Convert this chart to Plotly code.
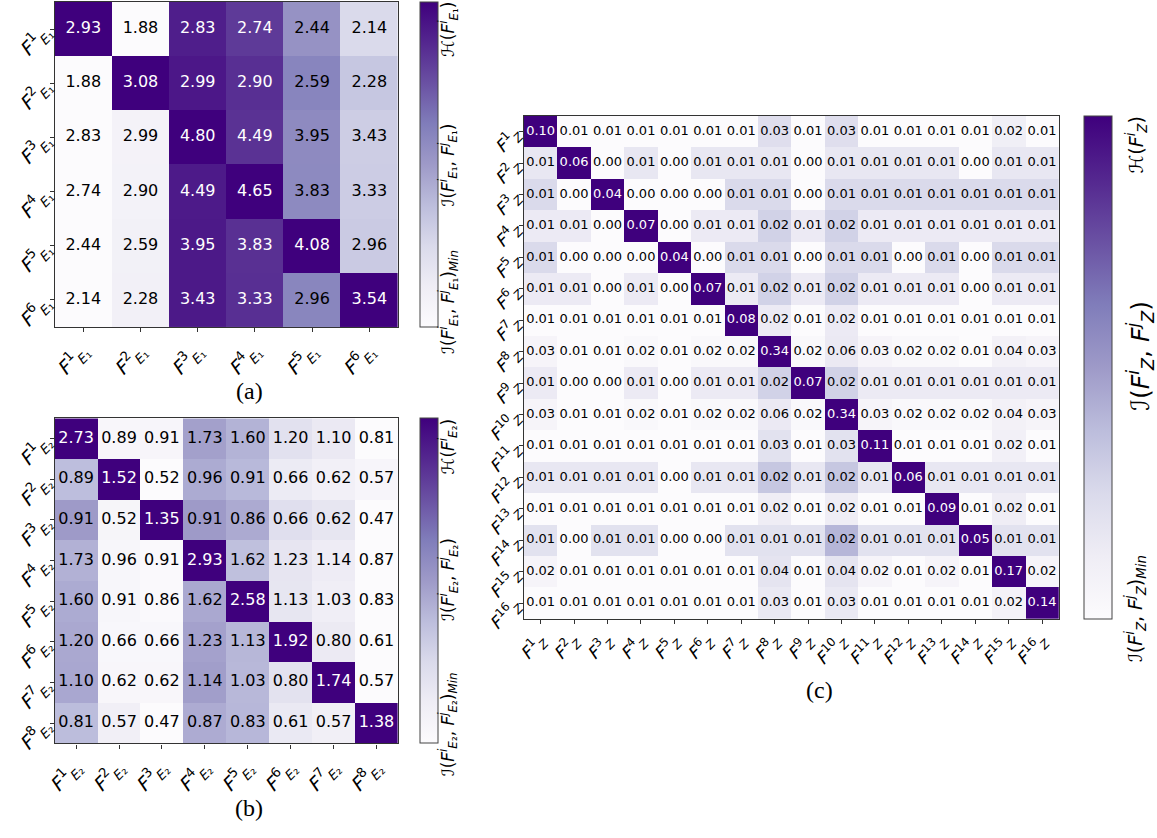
import plotly.graph_objects as go

# ---- data -------------------------------------------------------------
mi_e1 = [
    [2.93, 1.88, 2.83, 2.74, 2.44, 2.14],
    [1.88, 3.08, 2.99, 2.90, 2.59, 2.28],
    [2.83, 2.99, 4.80, 4.49, 3.95, 3.43],
    [2.74, 2.90, 4.49, 4.65, 3.83, 3.33],
    [2.44, 2.59, 3.95, 3.83, 4.08, 2.96],
    [2.14, 2.28, 3.43, 3.33, 2.96, 3.54],
]

mi_e2 = [
    [2.73, 0.89, 0.91, 1.73, 1.60, 1.20, 1.10, 0.81],
    [0.89, 1.52, 0.52, 0.96, 0.91, 0.66, 0.62, 0.57],
    [0.91, 0.52, 1.35, 0.91, 0.86, 0.66, 0.62, 0.47],
    [1.73, 0.96, 0.91, 2.93, 1.62, 1.23, 1.14, 0.87],
    [1.60, 0.91, 0.86, 1.62, 2.58, 1.13, 1.03, 0.83],
    [1.20, 0.66, 0.66, 1.23, 1.13, 1.92, 0.80, 0.61],
    [1.10, 0.62, 0.62, 1.14, 1.03, 0.80, 1.74, 0.57],
    [0.81, 0.57, 0.47, 0.87, 0.83, 0.61, 0.57, 1.38],
]

mi_z = [
    [0.10, 0.01, 0.01, 0.01, 0.01, 0.01, 0.01, 0.03, 0.01, 0.03, 0.01, 0.01, 0.01, 0.01, 0.02, 0.01],
    [0.01, 0.06, 0.00, 0.01, 0.00, 0.01, 0.01, 0.01, 0.00, 0.01, 0.01, 0.01, 0.01, 0.00, 0.01, 0.01],
    [0.01, 0.00, 0.04, 0.00, 0.00, 0.00, 0.01, 0.01, 0.00, 0.01, 0.01, 0.01, 0.01, 0.01, 0.01, 0.01],
    [0.01, 0.01, 0.00, 0.07, 0.00, 0.01, 0.01, 0.02, 0.01, 0.02, 0.01, 0.01, 0.01, 0.01, 0.01, 0.01],
    [0.01, 0.00, 0.00, 0.00, 0.04, 0.00, 0.01, 0.01, 0.00, 0.01, 0.01, 0.00, 0.01, 0.00, 0.01, 0.01],
    [0.01, 0.01, 0.00, 0.01, 0.00, 0.07, 0.01, 0.02, 0.01, 0.02, 0.01, 0.01, 0.01, 0.00, 0.01, 0.01],
    [0.01, 0.01, 0.01, 0.01, 0.01, 0.01, 0.08, 0.02, 0.01, 0.02, 0.01, 0.01, 0.01, 0.01, 0.01, 0.01],
    [0.03, 0.01, 0.01, 0.02, 0.01, 0.02, 0.02, 0.34, 0.02, 0.06, 0.03, 0.02, 0.02, 0.01, 0.04, 0.03],
    [0.01, 0.00, 0.00, 0.01, 0.00, 0.01, 0.01, 0.02, 0.07, 0.02, 0.01, 0.01, 0.01, 0.01, 0.01, 0.01],
    [0.03, 0.01, 0.01, 0.02, 0.01, 0.02, 0.02, 0.06, 0.02, 0.34, 0.03, 0.02, 0.02, 0.02, 0.04, 0.03],
    [0.01, 0.01, 0.01, 0.01, 0.01, 0.01, 0.01, 0.03, 0.01, 0.03, 0.11, 0.01, 0.01, 0.01, 0.02, 0.01],
    [0.01, 0.01, 0.01, 0.01, 0.00, 0.01, 0.01, 0.02, 0.01, 0.02, 0.01, 0.06, 0.01, 0.01, 0.01, 0.01],
    [0.01, 0.01, 0.01, 0.01, 0.01, 0.01, 0.01, 0.02, 0.01, 0.02, 0.01, 0.01, 0.09, 0.01, 0.02, 0.01],
    [0.01, 0.00, 0.01, 0.01, 0.00, 0.00, 0.01, 0.01, 0.01, 0.02, 0.01, 0.01, 0.01, 0.05, 0.01, 0.01],
    [0.02, 0.01, 0.01, 0.01, 0.01, 0.01, 0.01, 0.04, 0.01, 0.04, 0.02, 0.01, 0.02, 0.01, 0.17, 0.02],
    [0.01, 0.01, 0.01, 0.01, 0.01, 0.01, 0.01, 0.03, 0.01, 0.03, 0.01, 0.01, 0.01, 0.01, 0.02, 0.14],
]

labels_e1 = [f"<i>F</i><sup>{k}</sup><sub><i>E</i>₁</sub>" for k in range(1, 7)]
labels_e2 = [f"<i>F</i><sup>{k}</sup><sub><i>E</i>₂</sub>" for k in range(1, 9)]
labels_z = [f"<i>F</i><sup>{k}</sup><sub><i>Z</i></sub>" for k in range(1, 17)]

# matplotlib "Purples"
purples = ["#fcfbfd", "#efedf5", "#dadaeb", "#bcbddc", "#9e9ac8",
           "#807dba", "#6a51a3", "#54278f", "#3f007d"]
colorscale = [[i / (len(purples) - 1), c] for i, c in enumerate(purples)]

W, H = 1157, 838


def px_x(p):
    return p / W


def px_y(p):
    return 1 - p / H


def row_scaled(m):
    # each row runs from its minimum I(.,.) up to its own entropy H (diagonal)
    out = []
    for i, row in enumerate(m):
        lo, hi = min(row), row[i]
        out.append([(v - lo) / (hi - lo) if hi > lo else 0.0 for v in row])
    return out


fig = go.Figure()

panels = [
    dict(m=mi_e1, lab=labels_e1, ax="", xr=(46, 392), yr=(2, 333),
         cbx=414, cbt=18, cf=16, tf=19),
    dict(m=mi_e2, lab=labels_e2, ax="2", xr=(46, 392), yr=(426, 757),
         cbx=414, cbt=18, cf=16, tf=19),
    dict(m=mi_z, lab=labels_z, ax="3", xr=(519, 1058), yr=(118, 630),
         cbx=1083, cbt=28, cf=13, tf=17),
]

layout_axes = {}
for p in panels:
    m = p["m"]
    n = len(m)
    z = row_scaled(m)
    xa = "x" + p["ax"]
    ya = "y" + p["ax"]
    y0, y1 = p["yr"]
    fig.add_trace(go.Heatmap(
        z=z, x=list(range(n)), y=list(range(n)),
        zmin=0, zmax=1, colorscale=colorscale,
        xaxis=xa, yaxis=ya, hoverinfo="skip",
        colorbar=dict(
            x=px_x(p["cbx"]), xanchor="left", xpad=0, ypad=0,
            y=px_y((y0 + y1) / 2), yanchor="middle",
            len=(y1 - y0) / H, lenmode="fraction",
            thickness=p["cbt"], thicknessmode="pixels",
            showticklabels=False, ticks="",
            outlinecolor="#444", outlinewidth=1,
        ),
    ))
    xs, ys, txt, cols = [], [], [], []
    for i in range(n):
        for j in range(n):
            xs.append(j)
            ys.append(i)
            txt.append(f"{m[i][j]:.2f}")
            cols.append("white" if z[i][j] > 0.7 else "black")
    fig.add_trace(go.Scatter(
        x=xs, y=ys, text=txt, mode="text", xaxis=xa, yaxis=ya,
        textfont=dict(family="DejaVu Sans", size=p["cf"], color=cols),
        hoverinfo="skip", showlegend=False,
    ))
    common = dict(
        showline=True, mirror=True, linecolor="#333", linewidth=1.2,
        ticks="outside", ticklen=4, tickwidth=1, tickcolor="#333",
        showgrid=False, zeroline=False,
        tickvals=list(range(n)), ticktext=p["lab"], tickangle=-45,
        tickfont=dict(family="DejaVu Sans", size=p["tf"], color="black"),
    )
    layout_axes["xaxis" + p["ax"]] = dict(
        common, domain=[px_x(p["xr"][0]), px_x(p["xr"][1])],
        range=[-0.5, n - 0.5], anchor=ya,
    )
    layout_axes["yaxis" + p["ax"]] = dict(
        common, domain=[px_y(y1), px_y(y0)],
        range=[n - 0.5, -0.5], anchor=xa,
    )

fig.update_layout(**layout_axes)

# colorbar end labels and panel captions
notes = [
    ("ℋ(<i>F</i><sup><i>i</i></sup><sub><i>E</i>₁</sub>)", 443, 30, 17),
    ("ℐ(<i>F</i><sup><i>i</i></sup><sub><i>E</i>₁</sub>, <i>F</i><sup><i>j</i></sup><sub><i>E</i>₁</sub>)", 443, 168, 17),
    ("ℐ(<i>F</i><sup><i>i</i></sup><sub><i>E</i>₁</sub>, <i>F</i><sup><i>j</i></sup><sub><i>E</i>₁</sub>)<sub><i>Min</i></sub>", 443, 308, 17),
    ("ℋ(<i>F</i><sup><i>i</i></sup><sub><i>E</i>₂</sub>)", 443, 455, 17),
    ("ℐ(<i>F</i><sup><i>i</i></sup><sub><i>E</i>₂</sub>, <i>F</i><sup><i>j</i></sup><sub><i>E</i>₂</sub>)", 443, 590, 17),
    ("ℐ(<i>F</i><sup><i>i</i></sup><sub><i>E</i>₂</sub>, <i>F</i><sup><i>j</i></sup><sub><i>E</i>₂</sub>)<sub><i>Min</i></sub>", 443, 738, 17),
    ("ℋ(<i>F</i><sup><i>i</i></sup><sub><i>Z</i></sub>)", 1136, 148, 19),
    ("ℐ(<i>F</i><sup><i>i</i></sup><sub><i>Z</i></sub>, <i>F</i><sup><i>j</i></sup><sub><i>Z</i></sub>)", 1140, 362, 25),
    ("ℐ(<i>F</i><sup><i>i</i></sup><sub><i>Z</i></sub>, <i>F</i><sup><i>j</i></sup><sub><i>Z</i></sub>)<sub><i>Min</i></sub>", 1136, 620, 19),
]
ann = []
for text, x, y, size in notes:
    ann.append(dict(
        text=text, x=px_x(x), y=px_y(y), xref="paper", yref="paper",
        xanchor="center", yanchor="middle", textangle=-90, showarrow=False,
        font=dict(family="DejaVu Sans", size=size, color="black"),
    ))
for text, x, y in [("(a)", 242, 398), ("(b)", 242, 823), ("(c)", 817, 703)]:
    ann.append(dict(
        text=text, x=px_x(x), y=px_y(y), xref="paper", yref="paper",
        xanchor="center", yanchor="middle", showarrow=False,
        font=dict(family="Liberation Serif", size=24, color="black"),
    ))

fig.update_layout(
    width=W, height=H, margin=dict(l=0, r=0, t=0, b=0),
    paper_bgcolor="white", plot_bgcolor="white",
    showlegend=False, annotations=ann,
)

fig.write_html("out.html")
